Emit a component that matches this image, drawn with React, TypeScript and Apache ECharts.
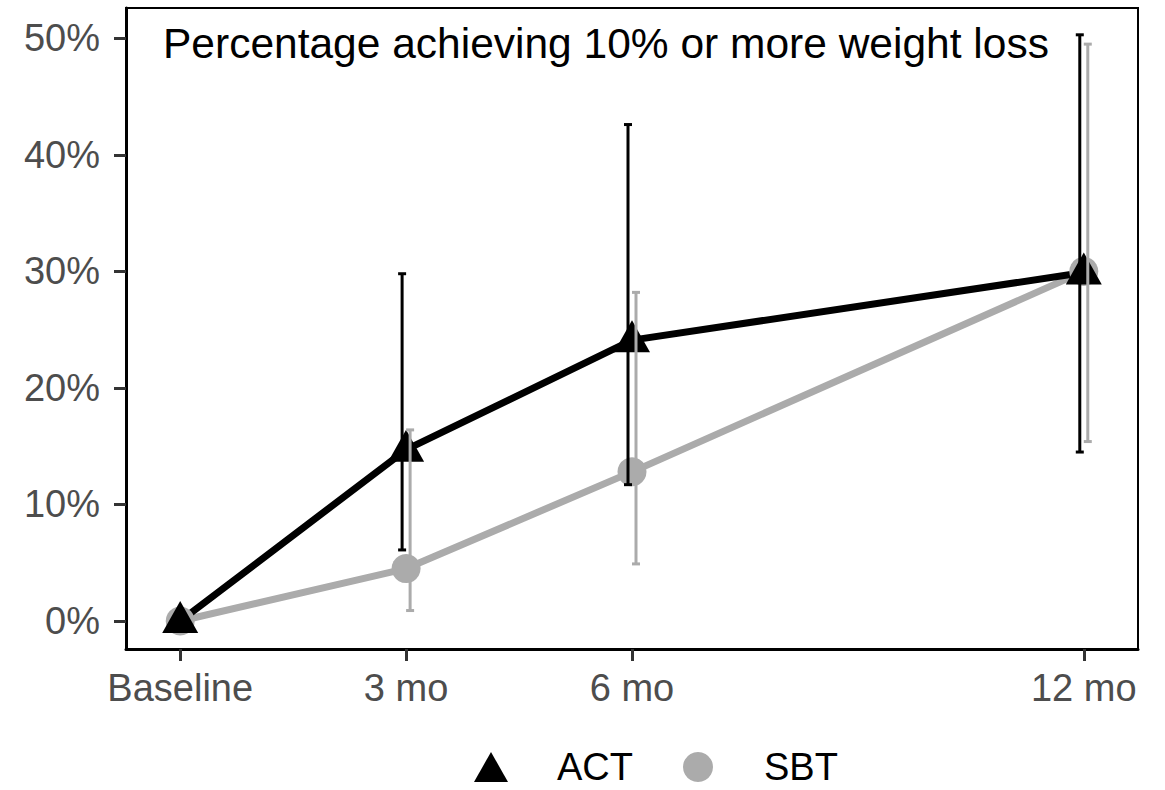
import React, { useEffect, useRef } from "react";
import * as echarts from "echarts";

const months = [0, 3, 6, 12];
const monthLabels = ["Baseline", "3 mo", "6 mo", "12 mo"];
const yTicks = [0, 10, 20, 30, 40, 50];

const actMean = [0, 14.7, 24.1, 29.9];
const sbtMean = [0, 4.5, 12.8, 30.0];

const errMonths = [3, 6, 12];
const actLow = [6.1, 11.7, 14.5];
const actHigh = [29.8, 42.6, 50.3];
const sbtLow = [0.9, 4.9, 15.4];
const sbtHigh = [16.4, 28.2, 49.5];

const titleText = "Percentage achieving 10% or more weight loss";

const BLACK = "#000000";
const GREY = "#ababab";

function errorSeries(name: string, lows: number[], highs: number[], color: string, dx: number, z: number) {
  return {
    name,
    type: "custom",
    z,
    data: errMonths.map((m, i) => [m, lows[i], highs[i]]),
    encode: { x: 0, y: [1, 2] },
    renderItem: (_params: any, api: any) => {
      const x = api.value(0);
      const lo = api.coord([x, api.value(1)]);
      const hi = api.coord([x, api.value(2)]);
      const cx = lo[0] + dx;
      const cap = 4;
      const style = { stroke: color, lineWidth: 3 };
      return {
        type: "group",
        children: [
          { type: "line", shape: { x1: cx, y1: lo[1], x2: cx, y2: hi[1] }, style },
          { type: "line", shape: { x1: cx - cap, y1: lo[1], x2: cx + cap, y2: lo[1] }, style },
          { type: "line", shape: { x1: cx - cap, y1: hi[1], x2: cx + cap, y2: hi[1] }, style },
        ],
      };
    },
  };
}

export default function App() {
  const ref = useRef<HTMLDivElement>(null);
  useEffect(() => {
    if (!ref.current) return;
    const chart = echarts.init(ref.current, undefined, { renderer: "svg" });
    const font = "Liberation Sans, Arial, sans-serif";
    chart.setOption({
      animation: false,
      backgroundColor: "#ffffff",
      textStyle: { fontFamily: font },
      grid: {
        left: 126,
        right: 27,
        top: 8,
        bottom: 141,
        show: true,
        borderColor: "#000",
        borderWidth: 2,
        backgroundColor: "transparent",
      },
      xAxis: {
        type: "value",
        min: -0.72,
        max: 12.72,
        splitLine: { show: false },
        axisLine: { show: true, onZero: false, lineStyle: { color: "#000", width: 3 } },
        axisTick: {
          show: true,
          customValues: months,
          length: 12,
          lineStyle: { color: "#333", width: 3 },
        },
        axisLabel: {
          customValues: months,
          margin: 20,
          color: "#4d4d4d",
          fontSize: 38,
          fontFamily: font,
          formatter: (v: number) => {
            const i = months.indexOf(v);
            return i >= 0 ? monthLabels[i] : "";
          },
        },
      },
      yAxis: {
        type: "value",
        min: -2.4,
        max: 52.6,
        splitLine: { show: false },
        axisLine: { show: true, onZero: false, lineStyle: { color: "#000", width: 3 } },
        axisTick: {
          show: true,
          customValues: yTicks,
          length: 12,
          lineStyle: { color: "#333", width: 3 },
        },
        axisLabel: {
          customValues: yTicks,
          margin: 26,
          color: "#4d4d4d",
          fontSize: 38,
          fontFamily: font,
          formatter: (v: number) => v + "%",
        },
      },
      legend: {
        left: 469,
        top: 743,
        itemWidth: 34,
        itemHeight: 30,
        itemGap: 50,
        textStyle: { fontSize: 38, color: "#000", fontFamily: font, padding: [0, 0, 0, 44] },
        data: [
          { name: "ACT", icon: "triangle", itemStyle: { color: BLACK } },
          { name: "SBT", icon: "circle", itemStyle: { color: GREY } },
        ],
      },
      graphic: [
        {
          type: "text",
          left: 163,
          top: 22,
          z: 100,
          style: { text: titleText, fontSize: 42.5, fill: "#000", fontFamily: font },
        },
      ],
      series: [
        {
          name: "SBT",
          type: "line",
          z: 1,
          showSymbol: false,
          data: months.map((m, i) => [m, sbtMean[i]]),
          lineStyle: { color: GREY, width: 7 },
          itemStyle: { color: GREY },
        },
        {
          name: "ACT",
          type: "line",
          z: 2,
          showSymbol: false,
          data: months.map((m, i) => [m, actMean[i]]),
          lineStyle: { color: BLACK, width: 7 },
          itemStyle: { color: BLACK },
        },
        {
          name: "SBT",
          type: "scatter",
          z: 3,
          symbol: "circle",
          symbolSize: 29,
          data: months.map((m, i) => [m, sbtMean[i]]),
          itemStyle: { color: GREY, opacity: 1 },
        },
        {
          name: "ACT",
          type: "scatter",
          z: 4,
          symbol: "triangle",
          symbolSize: [36, 32],
          symbolOffset: [0, -4],
          data: months.map((m, i) => [m, actMean[i]]),
          itemStyle: { color: BLACK, opacity: 1 },
        },
        errorSeries("ACT", actLow, actHigh, BLACK, -4, 5),
        errorSeries("SBT", sbtLow, sbtHigh, GREY, 4, 5),
      ],
    });
    return () => chart.dispose();
  }, []);
  return <div ref={ref} style={{ width: 1165, height: 790, position: "absolute", left: 0, top: 0 }} />;
}
